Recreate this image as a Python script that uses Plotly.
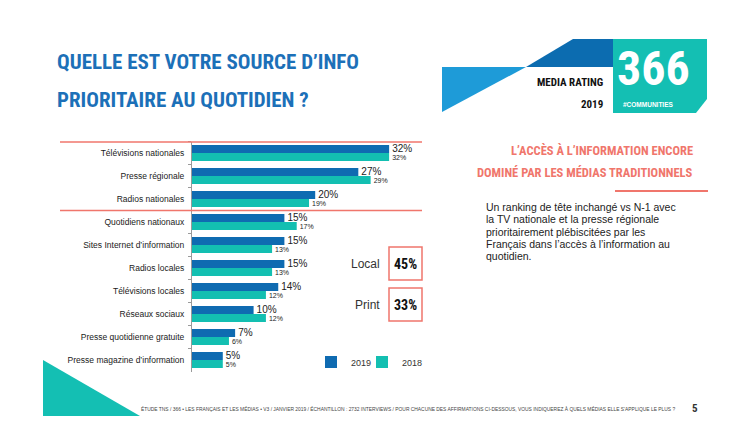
import plotly.graph_objects as go

W, H = 750, 447
OFF = 8  # page body margin offset

categories = ["Télévisions nationales", "Presse régionale", "Radios nationales",
              "Quotidiens nationaux", "Sites Internet d’information", "Radios locales",
              "Télévisions locales", "Réseaux sociaux", "Presse quotidienne gratuite",
              "Presse magazine d’information"]
v2019 = [32, 27, 20, 15, 15, 15, 14, 10, 7, 5]
v2018 = [32, 29, 19, 17, 13, 13, 12, 12, 6, 5]
series_names = ["2019", "2018"]
summary_labels = ["Local", "Print"]
summary_values = ["45%", "33%"]

C19 = "#0F6BB1"
C18 = "#13BFB1"
SALMON = "#F0766C"
BLUE_T = "#1C70B8"
COND = "Roboto Condensed, Liberation Sans Narrow, DejaVu Sans Condensed, Roboto, sans-serif"
SANS = "Liberation Sans, Arial, sans-serif"


def px(x):
    return (x - OFF) / W


def py(y):
    return 1 - (y - OFF) / H


fig = go.Figure()
fig.add_trace(go.Bar(
    y=categories, x=v2019, name=series_names[0], orientation="h",
    marker=dict(color=C19, line=dict(width=0)),
    text=[f"{v}%" for v in v2019], textposition="outside", constraintext="none",
    textfont=dict(size=10, color="#222", family=SANS), cliponaxis=False,
    legend="legend",
))
fig.add_trace(go.Bar(
    y=categories, x=v2018, name=series_names[1], orientation="h",
    marker=dict(color=C18, line=dict(width=0)),
    text=[f"{v}%" for v in v2018], textposition="outside", constraintext="none",
    textfont=dict(size=7, color="#222", family=SANS),
    cliponaxis=False, legend="legend2",
))

scale = 6.16  # px per percent
x0 = 192
x1 = 420
leg_common = dict(orientation="h", xanchor="left", yanchor="middle",
                  font=dict(size=9, color="#333", family=SANS),
                  itemwidth=30, bgcolor="rgba(0,0,0,0)")
fig.update_layout(
    width=W, height=H, margin=dict(l=0, r=0, t=0, b=0),
    paper_bgcolor="white", plot_bgcolor="white",
    barmode="group", bargap=0.3, bargroupgap=0,
    xaxis=dict(domain=[px(x0), px(x1)], range=[0, (x1 - x0) / scale], visible=False),
    yaxis=dict(domain=[py(371.5), py(141.5)], autorange="reversed",
               showline=True, linecolor="#9a9a9a", linewidth=1,
               ticks="outside", tickson="boundaries", ticklen=3, tickcolor="#9a9a9a",
               ticklabelstandoff=5,
               tickfont=dict(size=8.5, color="#1a1a1a", family=SANS), showgrid=False),
    legend=dict(x=px(311), y=py(362), **leg_common),
    legend2=dict(x=px(362), y=py(362), **leg_common),
    showlegend=True,
)

shapes = []
for yy in (142, 210.5):
    shapes.append(dict(type="line", xref="paper", yref="paper", x0=px(60), x1=px(422),
                       y0=py(yy), y1=py(yy), line=dict(color=SALMON, width=1.5)))
for (ya, yb) in ((247, 280), (288, 321)):
    shapes.append(dict(type="rect", xref="paper", yref="paper", x0=px(389), x1=px(422),
                       y0=py(ya), y1=py(yb), line=dict(color=SALMON, width=1.5),
                       fillcolor="rgba(0,0,0,0)"))
shapes.append(dict(type="line", xref="paper", yref="paper", x0=px(615), x1=px(708),
                   y0=py(191), y1=py(191), line=dict(color=SALMON, width=2)))


def poly(points, color):
    d = "M " + " L ".join(f"{px(a):.5f},{py(b):.5f}" for a, b in points) + " Z"
    return dict(type="path", xref="paper", yref="paper", path=d,
                fillcolor=color, line=dict(width=0))


shapes.append(poly([(442, 67), (526, 67), (442, 112)], "#1E9BD8"))
shapes.append(poly([(526, 67), (573, 39), (613, 39), (613, 67)], "#0C6CB0"))
shapes.append(poly([(613, 39), (707, 39), (707, 99), (696, 113), (613, 113)], "#14BFB3"))
shapes.append(poly([(43, 360), (43, 416), (140, 416)], "#14BFB3"))
fig.update_layout(shapes=shapes)

ann = []


def text(x, y, s, size, color, family=SANS, xanchor="left", bold=False):
    if bold:
        s = f"<b>{s}</b>"
    ann.append(dict(x=px(x), y=py(y), xref="paper", yref="paper", text=s, showarrow=False,
                    xanchor=xanchor, yanchor="middle", borderpad=0,
                    align=xanchor if xanchor != "center" else "center",
                    font=dict(size=size, color=color, family=family)))


text(56, 62, "QUELLE EST VOTRE SOURCE D’INFO", 21, BLUE_T, COND, bold=True)
text(56, 100, "PRIORITAIRE AU QUOTIDIEN ?", 21, BLUE_T, COND, bold=True)
text(604, 83, "MEDIA RATING", 11, "#111", COND, xanchor="right", bold=True)
text(604, 104, "2019", 11, "#111", COND, xanchor="right", bold=True)
text(653, 68, "366", 48, "white", COND, xanchor="center", bold=True)
text(648, 104, "#COMMUNITIES", 6.5, "white", SANS, xanchor="center", bold=True)
text(694, 151, "L’ACCÈS À L’INFORMATION ENCORE", 12.5, SALMON, COND, xanchor="right", bold=True)
text(694, 172, "DOMINÉ PAR LES MÉDIAS TRADITIONNELS", 12.5, SALMON, COND, xanchor="right", bold=True)
para = ["Un ranking de tête inchangé vs N-1 avec",
        "la TV nationale et la presse régionale",
        "prioritairement plébiscitées par les",
        "Français dans l’accès à l’information au",
        "quotidien."]
for i, line in enumerate(para):
    text(485, 207 + i * 12.3, line, 10.5, "#222", SANS)
for i, (lab, val) in enumerate(zip(summary_labels, summary_values)):
    yy = 264 + i * 41
    text(381, yy, lab, 12, "#333", SANS, xanchor="right")
    text(405.5, yy, val, 14, "#111", COND, xanchor="center", bold=True)
text(140, 409, "ÉTUDE TNS / 366 • LES FRANÇAIS ET LES MÉDIAS • V3 / JANVIER 2019 / ÉCHANTILLON : 2732 INTERVIEWS / "
     "POUR CHACUNE DES AFFIRMATIONS CI-DESSOUS, VOUS INDIQUEREZ À QUELS MÉDIAS ELLE S’APPLIQUE LE PLUS ?",
     4.9, "#444", SANS)
text(695, 408, "5", 11, "#333", COND, xanchor="center", bold=True)

fig.update_layout(annotations=ann)
fig.write_html("out.html")
